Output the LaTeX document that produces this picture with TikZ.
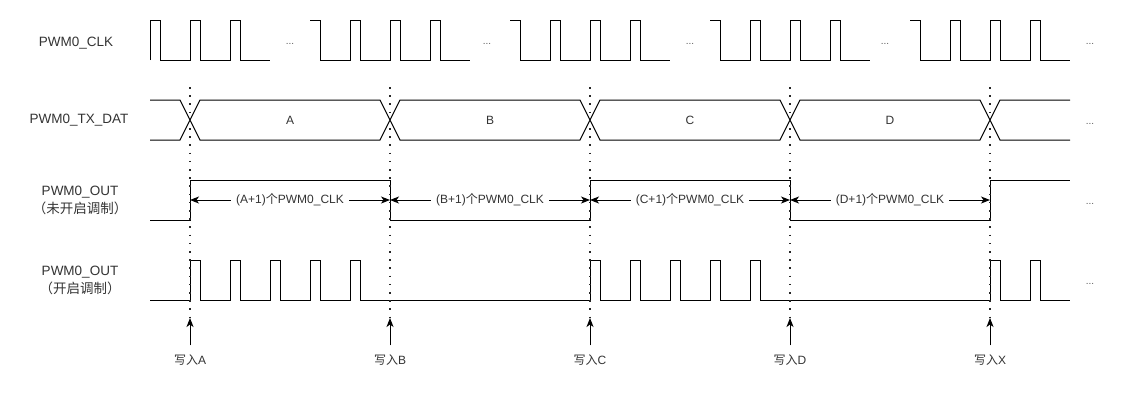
\documentclass[tikz,border=0pt]{standalone}
\usepackage{fontspec}
\setmainfont{Liberation Sans}
\newfontfamily\cjk{Noto Sans CJK SC}
\usepackage{xcolor}
\usepackage{tikz}
\usetikzlibrary{arrows.meta}
\definecolor{ink}{HTML}{333333}
\definecolor{wave}{HTML}{000000}
\tikzset{
  sigwave/.style={draw=wave,line width=1pt,line join=miter},
  siglabel/.style={text=ink,font=\fontsize{13.5}{16}\selectfont,align=center,inner sep=0pt},
  datalabel/.style={text=ink,font=\fontsize{12}{14}\selectfont,inner sep=0pt},
  moredots/.style={text=ink!80,font=\fontsize{10}{11}\selectfont,inner sep=0pt,anchor=base},
  markline/.style={draw=wave!85,line width=1.6pt,dash pattern=on 1.6pt off 6.6pt},
  markarrow/.style={-{Stealth[length=9pt,width=7pt,inset=2.5pt]},line width=1pt,draw=wave,shorten <=7pt},
  dimarrow/.style={{Stealth[length=9pt,width=7pt,inset=2.5pt]}-{Stealth[length=9pt,width=7pt,inset=2.5pt]},line width=1pt,draw=wave},
  dimlabel/.style={fill=white,text=ink,font=\fontsize{12}{14}\selectfont,inner xsep=5pt,inner ysep=1pt},
  writelabel/.style={text=ink,font=\fontsize{12}{14}\selectfont,inner sep=2pt}
}
\begin{document}
\begin{tikzpicture}[x=1pt,y=-1pt]
\useasboundingbox (0,0) rectangle (1131,402);

% signal names
\node[siglabel] (clkname) at (76,43) {PWM0\_CLK};
\node[siglabel] (datname) at (79,120) {PWM0\_TX\_DAT};
\node[siglabel] (outname) at (80,200) {PWM0\_OUT\\[2pt]{\cjk （未开启调制）}};
\node[siglabel] (modname) at (80,280) {PWM0\_OUT\\[2pt]{\cjk （开启调制）}};

% write points
\foreach \x/\n in {190/A,390/B,590/C,790/D,990/X} {
  \coordinate (top\n) at (\x,87);
  \coordinate (tip\n) at (\x,318);
  \coordinate (dim\n) at (\x,200);
  \node[writelabel] (wr\n) at (\x,360) {{\cjk 写入}\n};
}

% PWM0_CLK
\draw[sigwave] (150,60) -- (150,20) -- (160,20) -- (160,60) -- (190,60) -- (190,20) -- (200,20)
  -- (200,60) -- (230,60) -- (230,20) -- (240,20) -- (240,60) -- (270,60);
\foreach \s in {310,510,710,910}
  \draw[sigwave] (\s,20) -- (\s+10,20) -- (\s+10,60) -- (\s+40,60) -- (\s+40,20) -- (\s+50,20)
    -- (\s+50,60) -- (\s+80,60) -- (\s+80,20) -- (\s+90,20) -- (\s+90,60) -- (\s+120,60)
    -- (\s+120,20) -- (\s+130,20) -- (\s+130,60) -- (\s+160,60);
\foreach \x [count=\i] in {290,487,690,885,1090}
  \node[moredots] (clkmore\i) at (\x,44) {...};

% PWM0_TX_DAT
\draw[sigwave] (150,100) -- (180,100) -- (200,140) -- (380,140) -- (400,100) -- (580,100) -- (600,140)
  -- (780,140) -- (800,100) -- (980,100) -- (1000,140) -- (1070,140);
\draw[sigwave] (150,140) -- (180,140) -- (200,100) -- (380,100) -- (400,140) -- (580,140) -- (600,100)
  -- (780,100) -- (800,140) -- (980,140) -- (1000,100) -- (1070,100);
\foreach \x/\n in {290/A,490/B,690/C,890/D}
  \node[datalabel] (dat\n) at (\x,120) {\n};
\node[moredots] (datmore) at (1090,124) {...};

% PWM0_OUT, no modulation
\draw[sigwave] (150,220) -- (190,220) -- (190,180) -- (390,180) -- (390,220) -- (590,220) -- (590,180)
  -- (790,180) -- (790,220) -- (990,220) -- (990,180) -- (1070,180);
\node[moredots] (outmore) at (1090,204) {...};

% PWM0_OUT, modulation
\draw[sigwave] (150,300)
  \foreach \p in {190,230,270,310,350} { -- (\p,300) -- (\p,260) -- (\p+10,260) -- (\p+10,300) }
  \foreach \p in {590,630,670,710,750} { -- (\p,300) -- (\p,260) -- (\p+10,260) -- (\p+10,300) }
  \foreach \p in {990,1030} { -- (\p,300) -- (\p,260) -- (\p+10,260) -- (\p+10,300) }
  -- (1070,300);
\node[moredots] (modmore) at (1090,284) {...};

% marks and counts
\foreach \n in {A,B,C,D,X} {
  \draw[markline] (top\n) -- (tip\n);
  \draw[markarrow] (wr\n) -- (tip\n);
}
\foreach \a/\b in {A/B,B/C,C/D,D/X}
  \draw[dimarrow] (dim\a) -- node[dimlabel] (cnt\a) {(\a+1){\cjk 个}PWM0\_CLK} (dim\b);
\end{tikzpicture}
\end{document}
